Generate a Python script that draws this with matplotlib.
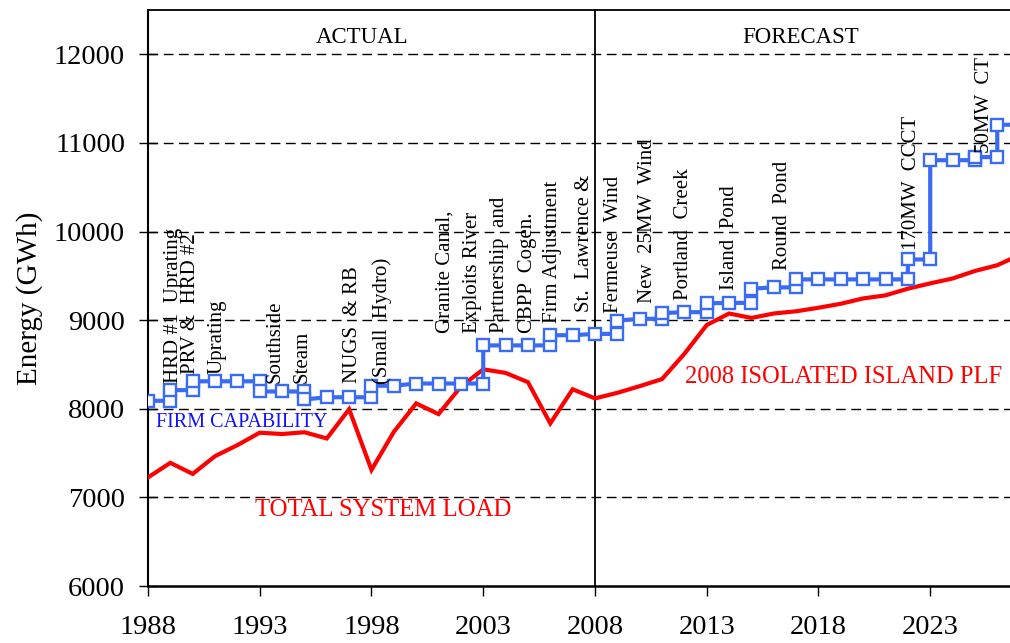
import matplotlib
matplotlib.use("Agg")
import matplotlib.pyplot as plt

plt.rcParams['font.family'] = ['Liberation Serif', 'DejaVu Serif']

# ---------------- data ----------------
load_years = list(range(1988, 2028))
load_values = [7225, 7390, 7265, 7465, 7590, 7730, 7715, 7735, 7665, 7995,
               7310, 7740, 8060, 7940, 8250, 8445, 8405, 8300, 7835, 8220,
               8117, 8180, 8255, 8335, 8620, 8945, 9075, 9025, 9075, 9100,
               9140, 9185, 9245, 9280, 9355, 9415, 9470, 9555, 9620, 9735]

firm_years = [1988, 1989, 1989, 1990, 1990, 1991, 1992, 1993, 1993, 1994,
              1995, 1995, 1996, 1997, 1998, 1998, 1999, 2000, 2001, 2002,
              2003, 2003, 2004, 2005, 2006, 2006, 2007, 2008, 2009, 2009,
              2010, 2011, 2011, 2012, 2013, 2013, 2014, 2015, 2015, 2016,
              2017, 2017, 2018, 2019, 2020, 2021, 2022, 2022, 2023, 2023,
              2024, 2025, 2025, 2026, 2026, 2027]
firm_values = [8090, 8090, 8210, 8210, 8310, 8310, 8310, 8310, 8195, 8195,
               8195, 8105, 8130, 8130, 8130, 8260, 8260, 8285, 8285, 8285,
               8285, 8715, 8715, 8715, 8715, 8830, 8830, 8845, 8845, 8995,
               9015, 9015, 9080, 9090, 9090, 9190, 9195, 9195, 9355, 9370,
               9370, 9460, 9460, 9460, 9460, 9460, 9460, 9685, 9685, 10805,
               10805, 10805, 10840, 10840, 11205, 11205]

annot_texts = ["HRD #1  Uprating", "PRV &  HRD #2", "Uprating", "Southside",
               "Steam", "NUGS  & RB", "(Small  Hydro)", "Granite Canal,",
               "Exploits River", "Partnership  and", "CBPP  Cogen.",
               "Firm Adjustment", "St.  Lawrence &", "Fermeuse  Wind",
               "New  25MW  Wind", "Portland  Creek", "Island  Pond",
               "Round  Pond", "170MW  CCCT", "50MW  CT"]
annot_x = [1989.12, 1989.88, 1991.09, 1993.68, 1994.89, 1997.17, 1998.47,
           2001.29, 2002.50, 2003.75, 2004.96, 2006.08, 2007.55, 2008.81,
           2010.37, 2011.94, 2014.04, 2016.37, 2022.18, 2025.45]
annot_y = [8289, 8391, 8391, 8289, 8289, 8289, 8278, 8853, 8853, 8853, 8853,
           8966, 9090, 9079, 9192, 9225, 9338, 9564, 9789, 10883]

y_ticks = [6000, 7000, 8000, 9000, 10000, 11000, 12000]
x_ticks = [1988, 1993, 1998, 2003, 2008, 2013, 2018, 2023]

# ---------------- figure ----------------
fig = plt.figure(figsize=(10.10, 6.43), dpi=100)
ax = fig.add_axes([148 / 1010, 57 / 643, (1010 - 148) / 1010, 576 / 643])

ax.set_xlim(1988, 2026.57)
ax.set_ylim(6000, 12500)

for y in y_ticks[1:]:
    ax.axhline(y, color='black', lw=1.0, linestyle=(0, (7, 4)), zorder=1)
ax.axvline(2008, color='black', lw=1.3, zorder=1)

blue = '#3A6BF5'
ax.plot(load_years, load_values, color='#FF0000', lw=3.0, zorder=3,
        solid_joinstyle='miter')
ax.plot(firm_years, firm_values, color=blue, lw=3.0, zorder=4,
        marker='s', markersize=8, markerfacecolor='white',
        markeredgecolor=blue, markeredgewidth=1.7)

for t, x, y in zip(annot_texts, annot_x, annot_y):
    ax.text(x, y, t, rotation=90, ha='center', va='bottom', fontsize=15,
            color='black', zorder=5)

ax.text(1997.6, 12185, 'ACTUAL', ha='center', va='center', fontsize=16.5)
ax.text(2017.2, 12185, 'FORECAST', ha='center', va='center', fontsize=16.5)
ax.text(1988.36, 7844, 'FIRM CAPABILITY', ha='left', va='center',
        fontsize=14.5, color='#1010FF')
ax.text(1992.79, 6857, 'TOTAL SYSTEM LOAD', ha='left', va='center',
        fontsize=17.8, color='#FF0000')
ax.text(2012.05, 8360, '2008 ISOLATED ISLAND PLF', ha='left', va='center',
        fontsize=17.7, color='#FF0000', clip_on=False)

ax.set_yticks(y_ticks)
ax.set_xticks(x_ticks)
ax.set_xticklabels([str(v) for v in x_ticks])
ax.tick_params(axis='y', direction='inout', length=13, width=1.0,
               labelsize=20.5, pad=10)
ax.tick_params(axis='x', direction='out', length=7, width=1.0,
               labelsize=20.5, pad=14)
ax.set_ylabel('Energy (GWh)', fontsize=21, labelpad=8)

ax.spines['right'].set_visible(False)
ax.spines['left'].set_linewidth(1.5)
ax.spines['bottom'].set_linewidth(1.8)
ax.spines['top'].set_linewidth(1.3)

fig.savefig('out.png', dpi=100)
